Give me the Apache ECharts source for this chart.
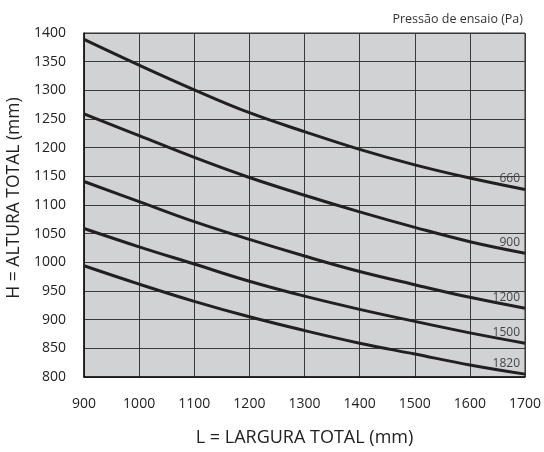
<!DOCTYPE html>
<html><head><meta charset="utf-8">
<script src="https://cdn.jsdelivr.net/npm/echarts@6/dist/echarts.min.js"></script>
<style>html,body{margin:0;padding:0;background:#fff}#c{width:544px;height:452px}</style>
</head><body><div id="c"></div>
<script>
const larguras = [900, 1000, 1100, 1200, 1300, 1400, 1500, 1600, 1700];
const pressoes = ['660', '900', '1200', '1500', '1820'];
const h660  = [1389, 1344, 1301, 1261, 1228, 1197, 1170, 1147, 1127];
const h900  = [1259, 1221, 1183, 1148, 1117, 1088, 1061, 1036, 1016];
const h1200 = [1141, 1106, 1071, 1040, 1011, 984, 961, 939, 920];
const h1500 = [1059, 1027, 997, 967, 941, 918, 897, 877, 859];
const h1820 = [994, 962, 932, 905, 881, 859, 840, 821, 805];
const valores = [h660, h900, h1200, h1500, h1820];

const FONT = '"Open Sans", sans-serif';
const chart = echarts.init(document.getElementById('c'), null, {renderer: 'canvas'});
const series = valores.map((vals, i) => ({
  name: pressoes[i],
  type: 'line',
  smooth: 0.4,
  symbol: 'circle',
  symbolSize: 1,
  showSymbol: true,
  itemStyle: {color: 'rgba(0,0,0,0)'},
  data: vals.map((v, j) => j === vals.length - 1
    ? {value: [larguras[j], v], label: {show: true}}
    : [larguras[j], v]),
  lineStyle: {color: '#231f20', width: 3},
  label: {
    show: false,
    position: 'top',
    align: 'right',
    distance: 4,
    offset: [-5, 0],
    color: '#444',
    fontFamily: FONT,
    fontSize: 12,
    formatter: () => pressoes[i]
  },
  z: 3
}));

chart.setOption({
  animation: false,
  title: {
    text: 'Pressão de ensaio (Pa)',
    right: 16, top: 8,
    textStyle: {fontFamily: FONT, fontSize: 12.5, fontWeight: 'normal', color: '#333'}
  },
  grid: {left: 84, right: 19, top: 33, bottom: 75, show: true, containLabel: false,
    outerBoundsMode: 'none',
    backgroundColor: '#d1d2d4', borderColor: '#2b2b2b', borderWidth: 1},
  xAxis: {
    type: 'value', min: 900, max: 1700, interval: 100,
    name: 'L = LARGURA TOTAL (mm)', nameLocation: 'middle', nameGap: 52,
    nameTextStyle: {fontFamily: FONT, fontSize: 18, color: '#222'},
    axisLine: {show: true, lineStyle: {color: '#111', width: 1.5}},
    axisTick: {show: false},
    axisLabel: {fontFamily: FONT, fontSize: 14, color: '#222', margin: 20, formatter: v => String(v)},
    splitLine: {show: true, lineStyle: {color: '#3a3a3a', width: 1}}
  },
  yAxis: {
    type: 'value', min: 800, max: 1400, interval: 50,
    name: 'H = ALTURA TOTAL (mm)', nameLocation: 'middle', nameGap: 58,
    nameTextStyle: {fontFamily: FONT, fontSize: 17.5, color: '#222', padding: [0, 0, 0, 14]},
    axisLine: {show: true, lineStyle: {color: '#111', width: 1.5}},
    axisTick: {show: false},
    axisLabel: {fontFamily: FONT, fontSize: 14, color: '#222', margin: 18, formatter: v => String(v)},
    splitLine: {show: true, lineStyle: {color: '#3a3a3a', width: 1}}
  },
  series: series
});
</script></body></html>
